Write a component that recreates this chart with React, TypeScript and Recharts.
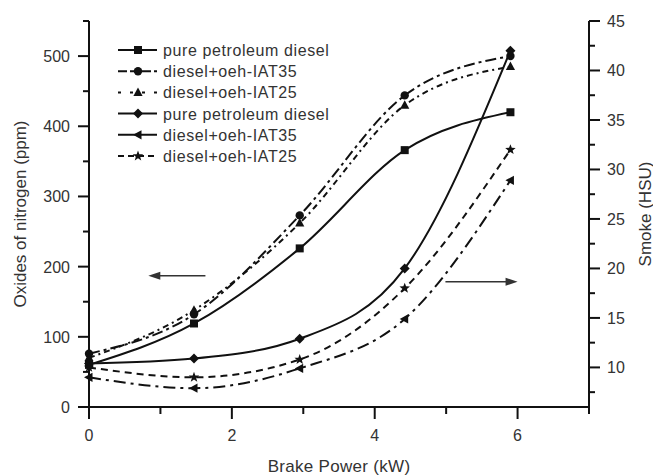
import React from "react";
import { LineChart, Line, XAxis, YAxis, Legend, ReferenceLine } from "recharts";

const brakePower = [0, 1.47, 2.95, 4.42, 5.9];
const noxPure = [60, 119, 226, 366, 420];
const noxIat35 = [76, 132, 273, 444, 500];
const noxIat25 = [70, 138, 262, 430, 485];
const smokePure = [10.4, 10.9, 12.9, 20.0, 42.0];
const smokeIat35 = [9.0, 7.9, 9.9, 14.9, 28.9];
const smokeIat25 = [10.0, 9.0, 10.8, 18.0, 32.0];

const xTicks = [0, 1, 2, 3, 4, 5, 6, 7];
const noxTicks = [0, 50, 100, 150, 200, 250, 300, 350, 400, 450, 500, 550];
const smokeTicks = [7.5, 10, 12.5, 15, 17.5, 20, 22.5, 25, 27.5, 30, 32.5, 35, 37.5, 40, 42.5, 45];

const FONT = '"Liberation Sans", Arial, Helvetica, sans-serif';
const INK = "#111";
const TEXT = "#333";

const rows = brakePower.map((x, i) => ({
  x,
  noxPure: noxPure[i],
  noxIat35: noxIat35[i],
  noxIat25: noxIat25[i],
  smokePure: smokePure[i],
  smokeIat35: smokeIat35[i],
  smokeIat25: smokeIat25[i],
}));

type Shape = "square" | "circle" | "triangle" | "diamond" | "left" | "star";

function Marker({ cx, cy, shape }: { cx: number; cy: number; shape: Shape }) {
  const s = 4;
  if (shape === "square") return <rect x={cx - s} y={cy - s} width={s * 2} height={s * 2} fill={INK} />;
  if (shape === "circle") return <circle cx={cx} cy={cy} r={4.2} fill={INK} />;
  if (shape === "triangle")
    return <polygon points={`${cx},${cy - 5} ${cx + 4.6},${cy + 3.5} ${cx - 4.6},${cy + 3.5}`} fill={INK} />;
  if (shape === "diamond")
    return <polygon points={`${cx},${cy - 5} ${cx + 5},${cy} ${cx},${cy + 5} ${cx - 5},${cy}`} fill={INK} />;
  if (shape === "left")
    return <polygon points={`${cx - 5},${cy} ${cx + 3.5},${cy - 4.6} ${cx + 3.5},${cy + 4.6}`} fill={INK} />;
  const pts: string[] = [];
  for (let k = 0; k < 10; k++) {
    const r = k % 2 === 0 ? 5.5 : 2.3;
    const a = -Math.PI / 2 + (k * Math.PI) / 5;
    pts.push(`${cx + r * Math.cos(a)},${cy + r * Math.sin(a)}`);
  }
  return <polygon points={pts.join(" ")} fill={INK} />;
}

const series: { key: string; axis: string; shape: Shape; dash?: string; name: string }[] = [
  { key: "noxPure", axis: "nox", shape: "square", name: "pure petroleum diesel" },
  { key: "noxIat35", axis: "nox", shape: "circle", dash: "11 4 3 4", name: "diesel+oeh-IAT35" },
  { key: "noxIat25", axis: "nox", shape: "triangle", dash: "6 4 2 4", name: "diesel+oeh-IAT25" },
  { key: "smokePure", axis: "smoke", shape: "diamond", name: "pure petroleum diesel" },
  { key: "smokeIat35", axis: "smoke", shape: "left", dash: "12 5 3 5", name: "diesel+oeh-IAT35" },
  { key: "smokeIat25", axis: "smoke", shape: "star", dash: "7 5", name: "diesel+oeh-IAT25" },
];

const legendDash = [undefined, "9 3", "3 9", undefined, undefined, "6 4"];

function LegendBox() {
  return (
    <svg width={240} height={140} style={{ display: "block" }}>
      {series.map((s, i) => {
        const y = 10 + i * 21.2;
        return (
          <g key={s.key}>
            <line x1={5} x2={44} y1={y} y2={y} stroke={INK} strokeWidth={2} strokeDasharray={legendDash[i]} />
            <Marker cx={25} cy={y} shape={s.shape} />
            <text x={50} y={y + 6} fontFamily={FONT} fontSize={16} letterSpacing={0.6} fill={TEXT}>
              {s.name}
            </text>
          </g>
        );
      })}
    </svg>
  );
}

function XTick({ x, y, payload }: any) {
  const major = payload.value % 2 === 0;
  return (
    <g>
      <line x1={x} x2={x} y1={y} y2={y + (major ? 12 : 7)} stroke={INK} strokeWidth={2} />
      {major && (
        <text x={x} y={y + 34} textAnchor="middle" fontFamily={FONT} fontSize={16} fill={TEXT}>
          {payload.value}
        </text>
      )}
    </g>
  );
}

function NoxTick({ x, y, payload }: any) {
  const major = payload.value % 100 === 0;
  return (
    <g>
      <line x1={x} x2={x - (major ? 11 : 6)} y1={y} y2={y} stroke={INK} strokeWidth={2} />
      {major && (
        <text x={x - 19} y={y + 6} textAnchor="end" fontFamily={FONT} fontSize={16} fill={TEXT}>
          {payload.value}
        </text>
      )}
    </g>
  );
}

function SmokeTick({ x, y, payload }: any) {
  const major = payload.value % 5 === 0;
  return (
    <g>
      <line x1={x} x2={x + (major ? 11 : 6)} y1={y} y2={y} stroke={INK} strokeWidth={2} />
      {major && (
        <text x={x + 18} y={y + 6} textAnchor="start" fontFamily={FONT} fontSize={16} fill={TEXT}>
          {payload.value}
        </text>
      )}
    </g>
  );
}

function Arrow(props: any) {
  const { x1, y1, x2, y2 } = props;
  const dir = x2 > x1 ? 1 : -1;
  return (
    <g>
      <line x1={x1} y1={y1} x2={x2 - dir * 8} y2={y2} stroke={TEXT} strokeWidth={1.3} />
      <polygon points={`${x2},${y2} ${x2 - dir * 12},${y2 - 4} ${x2 - dir * 12},${y2 + 4}`} fill={TEXT} />
    </g>
  );
}

export default function App() {
  return (
    <div style={{ position: "absolute", left: 0, top: 0, width: 653, height: 475, background: "#fff" }}>
      <LineChart width={653} height={475} data={rows} margin={{ top: 21, right: 0, bottom: 0, left: 0 }}>
        <XAxis
          dataKey="x"
          type="number"
          domain={[0, 7]}
          ticks={xTicks}
          interval={0}
          height={68}
          tickSize={0}
          tickMargin={0}
          tickLine={false}
          axisLine={{ stroke: INK, strokeWidth: 2 }}
          tick={<XTick />}
          label={{
            content: ({ viewBox }: any) => (
              <text x={viewBox.x + viewBox.width / 2} y={viewBox.y + 65} textAnchor="middle" fontFamily={FONT} fontSize={17} letterSpacing={0.3} fill={TEXT}>
                Brake Power (kW)
              </text>
            ),
          }}
        />
        <YAxis
          yAxisId="nox"
          domain={[0, 550]}
          ticks={noxTicks}
          interval={0}
          width={89}
          tickSize={0}
          tickMargin={0}
          tickLine={false}
          axisLine={{ stroke: INK, strokeWidth: 2 }}
          tick={<NoxTick />}
          label={{
            content: ({ viewBox }: any) => {
              const cy = viewBox.y + viewBox.height / 2;
              return (
                <text x={20} y={cy} transform={`rotate(-90 20 ${cy})`} textAnchor="middle" dominantBaseline="central" fontFamily={FONT} fontSize={17} fill={TEXT}>
                  Oxides of nitrogen (ppm)
                </text>
              );
            },
          }}
        />
        <YAxis
          yAxisId="smoke"
          orientation="right"
          domain={[6, 45]}
          ticks={smokeTicks}
          interval={0}
          width={64}
          tickSize={0}
          tickMargin={0}
          tickLine={false}
          axisLine={{ stroke: INK, strokeWidth: 2 }}
          tick={<SmokeTick />}
          label={{
            content: ({ viewBox }: any) => {
              const cy = viewBox.y + viewBox.height / 2;
              return (
                <text x={645} y={cy} transform={`rotate(-90 645 ${cy})`} textAnchor="middle" dominantBaseline="central" fontFamily={FONT} fontSize={17} fill={TEXT}>
                  Smoke (HSU)
                </text>
              );
            },
          }}
        />
        <ReferenceLine yAxisId="nox" segment={[{ x: 1.63, y: 187 }, { x: 0.83, y: 187 }]} shape={<Arrow />} ifOverflow="visible" />
        <ReferenceLine yAxisId="nox" segment={[{ x: 4.99, y: 178.5 }, { x: 6.0, y: 178.5 }]} shape={<Arrow />} ifOverflow="visible" />
        {series.map((s) => (
          <Line
            key={s.key}
            yAxisId={s.axis}
            dataKey={s.key}
            name={s.name}
            type="monotone"
            stroke={INK}
            strokeWidth={2}
            strokeDasharray={s.dash}
            dot={(p: any) => <Marker key={`${s.key}-${p.index}`} cx={p.cx} cy={p.cy} shape={s.shape} />}
            activeDot={false}
            isAnimationActive={false}
          />
        ))}
        <Legend
          layout="vertical"
          align="center"
          verticalAlign="middle"
          wrapperStyle={{ left: 113, top: 40, width: 240, height: 140 }}
          content={() => <LegendBox />}
        />
      </LineChart>
    </div>
  );
}
